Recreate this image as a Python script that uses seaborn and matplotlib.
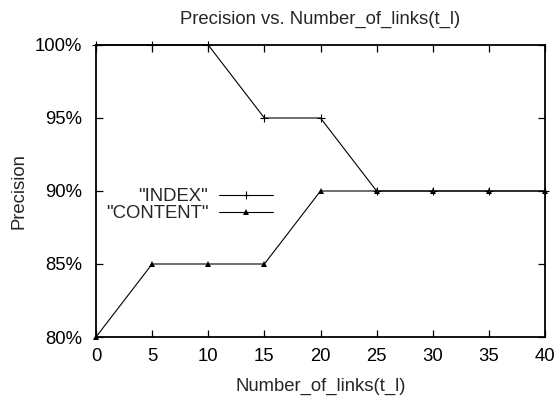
import matplotlib
matplotlib.use("Agg")
import matplotlib.pyplot as plt
import seaborn as sns
import pandas as pd

# Data
links = [0, 5, 10, 15, 20, 25, 30, 35, 40]
index_precision = [100, 100, 100, 95, 95, 90, 90, 90, 90]
content_precision = [80, 85, 85, 85, 90, 90, 90, 90, 90]
y_ticks = [80, 85, 90, 95, 100]
y_tick_labels = ["80%", "85%", "90%", "95%", "100%"]
x_ticks = [0, 5, 10, 15, 20, 25, 30, 35, 40]
title = "Precision vs. Number_of_links(t_l)"
x_label = "Number_of_links(t_l)"
y_label = "Precision"
series_names = ['"INDEX"', '"CONTENT"']

sns.set_style("ticks")
plt.rcParams['font.family'] = ['Liberation Sans', 'DejaVu Sans']
FS = 13.3

df = pd.DataFrame({"links": links, "INDEX": index_precision, "CONTENT": content_precision})

fig = plt.figure(figsize=(5.58, 3.96), dpi=100)
ax = fig.add_axes([96/558, 1-337/396, (545-96)/558, (337-45)/396])

sns.lineplot(data=df, x="links", y="INDEX", ax=ax, color="black", linewidth=0.8,
             marker="+", markersize=6, markeredgewidth=0.8, markeredgecolor="black",
             clip_on=False, label=series_names[0])
sns.lineplot(data=df, x="links", y="CONTENT", ax=ax, color="black", linewidth=0.8,
             marker="^", markersize=5, markeredgewidth=0, markerfacecolor="black",
             clip_on=False, label=series_names[1])

ax.set_xlim(0, 40)
ax.set_ylim(80, 100)
ax.set_xticks(x_ticks)
ax.set_yticks(y_ticks)
ax.set_yticklabels(y_tick_labels)
ax.tick_params(direction="in", length=5, width=0.9, top=True, right=True,
               labelsize=FS, colors="black")
ax.tick_params(axis="x", pad=8)
ax.tick_params(axis="y", pad=10)
for s in ax.spines.values():
    s.set_linewidth(1.3)
    s.set_color("black")
    s.set_visible(True)

ax.set_title(title, fontsize=FS, pad=15)
ax.set_xlabel(x_label, fontsize=FS, labelpad=9)
ax.set_ylabel(y_label, fontsize=FS, labelpad=5)

ax.legend(loc="center right", bbox_to_anchor=(273/558, 1-205/396),
          bbox_transform=fig.transFigure, frameon=False, markerfirst=False,
          fontsize=FS, handlelength=2.9, handletextpad=0.6, labelspacing=0.0,
          borderpad=0, borderaxespad=0)

fig.savefig("out.png", dpi=100)
